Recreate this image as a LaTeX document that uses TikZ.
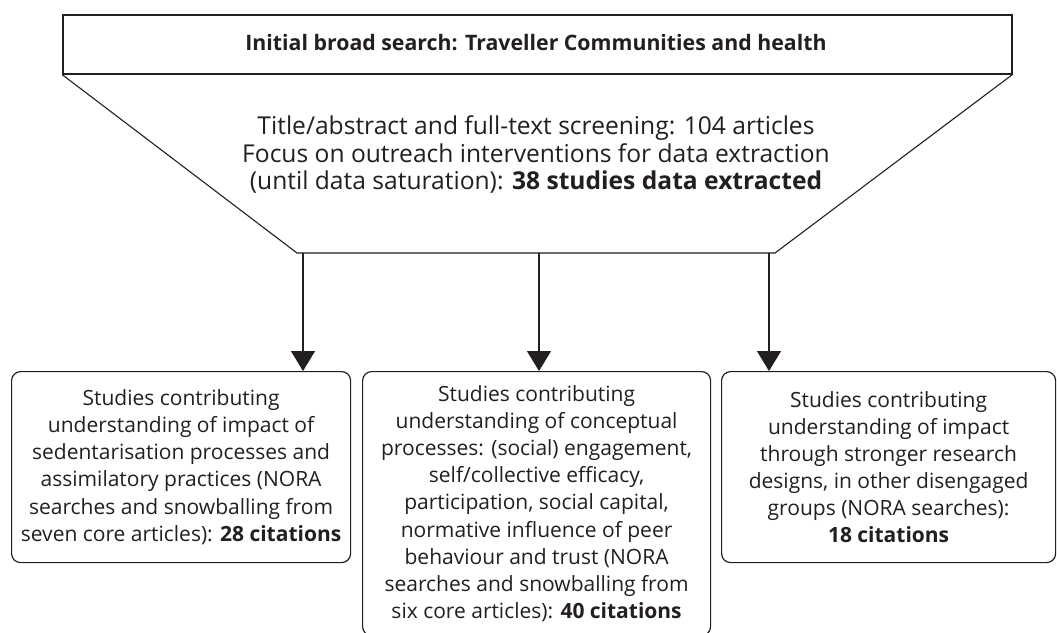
\documentclass[tikz,border=0pt]{standalone}
\usepackage{fontspec}
\setmainfont{Open Sans}
\usetikzlibrary{arrows.meta}
\definecolor{ink}{HTML}{231F20}
\begin{document}
\begin{tikzpicture}[x=1pt,y=-1pt,
  txt/.style={text=ink,font=\fontsize{21}{27.1}\selectfont,align=center,inner sep=0pt},
  bigtxt/.style={text=ink,font=\fontsize{24.6}{27.5}\selectfont,align=center,inner sep=0pt},
  studybox/.style={draw=ink,line width=1.2pt,rounded corners=9pt,txt,anchor=north west},
  arr/.style={draw=ink,line width=1.3pt,-{Triangle[length=20pt,width=24pt]}}]
\useasboundingbox (0,0) rectangle (1057,632);
\fill[white] (0,0) rectangle (1057,632);
% top box
\node[draw=ink,line width=1.5pt,minimum width=949pt,minimum height=59pt,anchor=north west,inner sep=0pt] (top) at (62,14) {};
\node[txt,font=\fontsize{21.3}{27}\selectfont\bfseries] (toptxt) at (536,43) {Initial broad search: Traveller Communities and health};
% funnel
\coordinate (fl) at (297,253);
\coordinate (fr) at (775,253);
\draw[ink,line width=1.1pt,line join=miter] (top.south west) -- (fl) -- (fr) -- (top.south east);
\node[bigtxt] (mid) at (536,155) {Title/abstract and full-text screening: 104 articles\\Focus on outreach interventions for data extraction\\(until data saturation): \textbf{38 studies data extracted}};
% boxes
\node[studybox,minimum width=339pt,minimum height=191pt] (b1) at (11,371) {Studies contributing\\understanding of impact of\\sedentarisation processes and\\assimilatory practices (NORA\\searches and snowballing from\\seven core articles): \textbf{28 citations}};
\node[studybox,minimum width=348pt,minimum height=264pt,anchor=north west] (b2) at (362,371) {Studies contributing\\understanding of conceptual\\processes: (social) engagement,\\self/collective efficacy,\\participation, social capital,\\normative influence of peer\\behaviour and trust (NORA\\searches and snowballing from\\six core articles): \textbf{40 citations}};
\node[studybox,minimum width=334pt,minimum height=191pt] (b3) at (721,371) {Studies contributing\\understanding of impact\\through stronger research\\designs, in other disengaged\\groups (NORA searches):\\\textbf{18 citations}};
% arrows
\coordinate (a1) at (303,253);
\coordinate (a2) at (539,253);
\coordinate (a3) at (769,253);
\draw[arr] (a1) -- (a1 |- b1.north);
\draw[arr] (a2) -- (a2 |- b2.north);
\draw[arr] (a3) -- (a3 |- b3.north);
\end{tikzpicture}
\end{document}
